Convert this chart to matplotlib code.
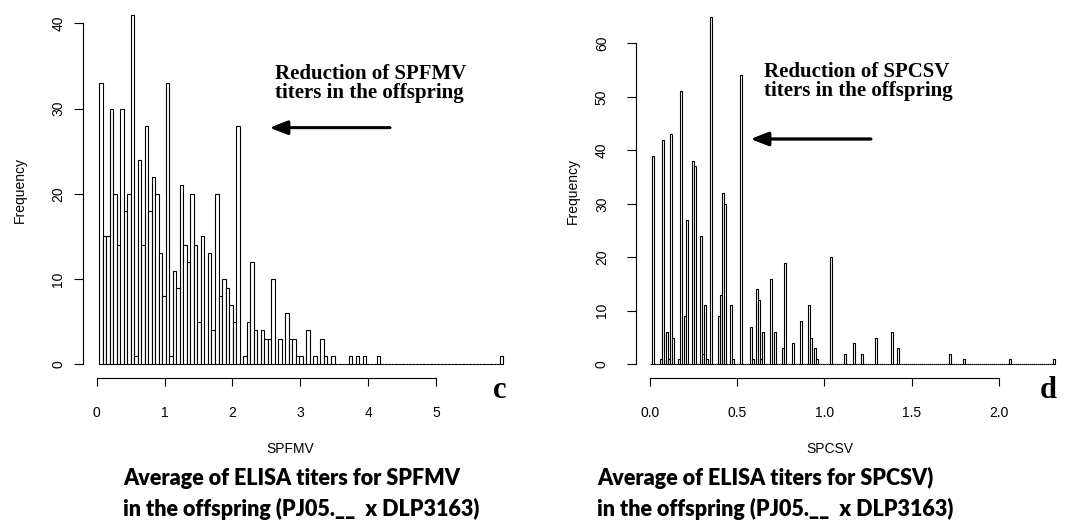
import numpy as np
import matplotlib
matplotlib.use("Agg")
from matplotlib import pyplot as plt

# histogram of SPFMV averages (bin counts)
spfmv_start = 0.034
spfmv_width = 0.0518
spfmv_counts = [33, 15, 15, 30, 20, 14, 30, 18, 20, 41,
                1, 24, 14, 28, 18, 22, 20, 13, 8, 33,
                1, 11, 9, 21, 14, 12, 20, 14, 5, 15,
                0, 13, 4, 20, 8, 10, 9, 7, 5, 28,
                0, 1, 5, 12, 4, 0, 4, 3, 3, 10,
                0, 3, 0, 6, 3, 3, 1, 1, 0, 4,
                0, 1, 0, 3, 1, 0, 1, 0, 0, 0,
                0, 1, 0, 1, 0, 1, 0, 0, 0, 1,
                0, 0, 0, 0, 0, 0, 0, 0, 0, 0,
                0, 0, 0, 0, 0, 0, 0, 0, 0, 0,
                0, 0, 0, 0, 0, 0, 0, 0, 0, 0,
                0, 0, 0, 0, 1]

# histogram of SPCSV averages
spcsv_start = 0.0
spcsv_width = 0.0115
spcsv_counts = [0, 39, 0, 0, 0, 1, 42, 0, 6, 1,
                43, 5, 0, 0, 1, 51, 0, 9, 27, 0,
                0, 38, 37, 0, 0, 24, 2, 11, 1, 0,
                65, 0, 0, 0, 9, 13, 32, 30, 0, 0,
                11, 1, 0, 0, 0, 54, 0, 0, 0, 0,
                7, 1, 0, 14, 12, 1, 6, 0, 0, 0,
                16, 0, 6, 0, 0, 0, 3, 19, 0, 0,
                0, 4, 0, 0, 0, 8, 0, 0, 0, 11,
                5, 0, 3, 1, 0, 0, 0, 0, 0, 0,
                20, 0, 0, 0, 0, 0, 0, 2, 0, 0,
                0, 4, 0, 0, 0, 2, 0, 0, 0, 0,
                0, 0, 5, 0, 0, 0, 0, 0, 0, 0,
                6, 0, 0, 3, 0, 0, 0, 0, 0, 0,
                0, 0, 0, 0, 0, 0, 0, 0, 0, 0,
                0, 0, 0, 0, 0, 0, 0, 0, 0, 2,
                0, 0, 0, 0, 0, 0, 1, 0, 0, 0,
                0, 0, 0, 0, 0, 0, 0, 0, 0, 0,
                0, 0, 0, 0, 0, 0, 0, 0, 0, 1,
                0, 0, 0, 0, 0, 0, 0, 0, 0, 0,
                0, 0, 0, 0, 0, 0, 0, 0, 0, 0,
                0, 1]

spfmv_xticks = [0, 1, 2, 3, 4, 5]
spfmv_yticks = [0, 10, 20, 30, 40]
spcsv_xticks = [0.0, 0.5, 1.0, 1.5, 2.0]
spcsv_yticks = [0, 10, 20, 30, 40, 50, 60]

W, H = 1076, 523
plt.rcParams['font.family'] = ['Liberation Sans', 'DejaVu Sans']

fig = plt.figure(figsize=(W / 100, H / 100), dpi=100)


def box(l, t, r, b):
    return [l / W, 1 - b / H, (r - l) / W, (b - t) / H]


def fx(x):
    return x / W


def fy(y):
    return 1 - y / H


def panel(rect, start, width, counts, xticks, yticks, xlim, ylim, ypad):
    ax = fig.add_axes(rect)
    edges = start + width * np.arange(len(counts))
    ax.bar(edges, counts, width=width, align='edge',
           facecolor='white', edgecolor='black', linewidth=0.8)
    ax.set_xlim(*xlim)
    ax.set_ylim(*ylim)
    ax.set_xticks(xticks)
    ax.set_yticks(yticks)
    ax.set_xticklabels([str(t) for t in xticks])
    for s in ['top', 'right']:
        ax.spines[s].set_visible(False)
    ax.spines['left'].set_bounds(yticks[0], yticks[-1])
    ax.spines['bottom'].set_bounds(xticks[0], xticks[-1])
    for s in ['left', 'bottom']:
        ax.spines[s].set_linewidth(0.8)
    ax.tick_params(axis='x', length=6, width=0.8, pad=14, labelsize=10)
    ax.tick_params(axis='y', length=6.5, width=0.8, pad=ypad, labelsize=10,
                   labelrotation=90)
    for lab in ax.get_yticklabels():
        lab.set_va('center')
    ax.patch.set_visible(False)
    return ax


# left panel (c)
x0, k = 96.7, 67.86
y0, ky = 364.3, 8.525
panel(box(82.7, 5, 530, 378.3), spfmv_start, spfmv_width, spfmv_counts,
      spfmv_xticks, spfmv_yticks,
      ((82.7 - x0) / k, (530 - x0) / k),
      (-(378.3 - y0) / ky, (y0 - 5) / ky), 6)

# right panel (d)
x0, k = 650, 174.35
y0, ky = 364.3, 5.35
panel(box(636, 5, 1070, 378.3), spcsv_start, spcsv_width, spcsv_counts,
      spcsv_xticks, spcsv_yticks,
      ((636 - x0) / k, (1070 - x0) / k),
      (-(378.3 - y0) / ky, (y0 - 5) / ky), 13)

# axis titles
fig.text(fx(20), fy(190), 'Frequency', rotation=90, ha='center', va='center', fontsize=10)
fig.text(fx(573), fy(191), 'Frequency', rotation=90, ha='center', va='center', fontsize=10)
fig.text(fx(290), fy(449), 'SPFMV', ha='center', va='center', fontsize=10)
fig.text(fx(830), fy(449), 'SPCSV', ha='center', va='center', fontsize=10)

# panel letters
serif = ['Liberation Serif', 'DejaVu Serif']
fig.text(fx(500), fy(398), 'c', ha='center', va='baseline', fontsize=22,
         fontweight='bold', family=serif)
fig.text(fx(1048), fy(398), 'd', ha='center', va='baseline', fontsize=22,
         fontweight='bold', family=serif)

# annotations
note = dict(ha='left', va='baseline', fontsize=15, fontweight='bold', family=serif)
fig.text(fx(275), fy(79), 'Reduction of SPFMV', **note)
fig.text(fx(275), fy(98), 'titers in the offspring', **note)
fig.text(fx(764), fy(77), 'Reduction of SPCSV', **note)
fig.text(fx(764), fy(96), 'titers in the offspring', **note)

arrow = dict(arrowstyle='-|>,head_length=0.9,head_width=0.35', lw=2,
             color='black', shrinkA=0, shrinkB=0, mutation_scale=12)
fig.add_artist(plt.annotate('', xy=(fx(270), fy(127.7)), xytext=(fx(390), fy(127.7)),
                            xycoords='figure fraction', arrowprops=arrow))
fig.add_artist(plt.annotate('', xy=(fx(751), fy(139)), xytext=(fx(871), fy(139)),
                            xycoords='figure fraction', arrowprops=arrow))

# captions under the panels
cap = dict(ha='left', va='baseline', fontsize=15.5, fontweight=800,
           family=['Lato', 'DejaVu Sans'])
fig.text(fx(123), fy(485), 'Average of ELISA titers for SPFMV', **cap)
fig.text(fx(123), fy(516), 'in the offspring (PJ05.__  x DLP3163)', **cap)
fig.text(fx(597), fy(485), 'Average of ELISA titers for SPCSV)', **cap)
fig.text(fx(597), fy(516), 'in the offspring (PJ05.__  x DLP3163)', **cap)

fig.savefig('out.png', dpi=100)
